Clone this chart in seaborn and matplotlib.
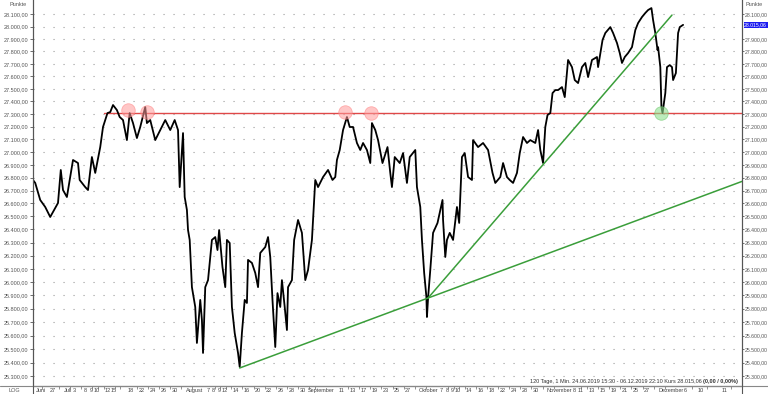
import numpy as np
import pandas as pd
import matplotlib
matplotlib.use("Agg")
import matplotlib.pyplot as plt
import seaborn as sns
from matplotlib.ticker import FixedLocator, NullLocator, FuncFormatter
from matplotlib.lines import Line2D

# ---------------- data ----------------
# trading-day index (0 = 24.06.2019) and Dow Jones index points
t_days = [0.0, 0.4, 1.3, 2.2, 3.1, 4.0, 4.5, 5.0, 5.4, 6.1, 7.2, 8.1, 8.4, 9.4, 9.9,
          10.6, 11.2, 12.1, 12.6, 13.4, 13.9, 14.4, 15.1, 15.6, 16.2, 16.9, 17.4, 18.0,
          18.7, 19.3, 20.2, 20.5, 21.1, 22.0, 22.9, 23.8, 24.7, 25.5, 26.1, 26.4, 27.0,
          27.3, 27.7, 27.9, 28.2, 28.6, 29.2, 29.5, 30.1, 30.4, 30.6, 31.0, 31.5, 32.2,
          32.8, 33.2, 33.5, 34.1, 34.6, 34.9, 35.4, 35.8, 36.3, 36.9, 37.2, 37.6, 38.1,
          38.5, 38.7, 39.4, 40.0, 40.5, 40.9, 41.8, 42.3, 42.7, 43.1, 43.6, 44.0, 44.5,
          44.8, 45.3, 45.7, 45.9, 46.6, 47.0, 47.7, 48.4, 49.0, 49.5, 50.2, 50.8, 51.3,
          52.2, 53.1, 53.9, 54.4, 54.7, 55.2, 55.8, 56.5, 57.0, 57.6, 58.3, 58.9, 59.4,
          60.1, 60.7, 61.0, 61.6, 62.1, 62.9, 63.8, 64.3, 64.6, 65.1, 66.0, 66.6, 67.3,
          67.8, 68.8, 69.1, 69.7, 70.0, 70.4, 70.8, 70.9, 71.1, 71.5, 72.0, 72.8, 73.3,
          73.7, 73.8, 74.2, 74.5, 75.0, 75.6, 76.3, 76.7, 77.2, 77.7, 78.3, 79.0, 79.2,
          80.1, 81.0, 81.9, 82.7, 83.2, 84.1, 84.6, 85.3, 85.8, 86.4, 87.1, 87.6, 88.2,
          88.9, 89.5, 90.4, 90.9, 91.3, 91.8, 92.2, 92.6, 93.1, 93.5, 94.0, 94.5, 95.2,
          95.7, 96.3, 97.0, 97.5, 98.1, 98.8, 99.4, 99.9, 100.6, 101.5, 101.7, 102.5,
          103.0, 103.9, 104.4, 105.1, 105.6, 106.0, 106.5, 107.1, 107.8, 108.4, 108.9,
          109.6, 110.2, 110.7, 111.3, 111.6, 112.0, 112.4, 112.5, 112.9, 113.1, 113.3,
          113.8, 114.1, 114.6, 115.0, 115.2, 115.7, 116.1, 116.4, 117.0]
price = [26782, 26759, 26627, 26573, 26496, 26565, 26604, 26860, 26704, 26650, 26938, 26914,
         26782, 26727, 26704, 26961, 26837, 27039, 27197, 27307, 27315, 27371, 27331, 27276,
         27252, 27094, 27307, 27228, 27110, 27197, 27355, 27228, 27252, 27094, 27173, 27252,
         27173, 27252, 27173, 26727, 27149, 26650, 26550, 26396, 26320, 25962, 25813, 25545,
         25866, 25716, 25471, 25962, 26015, 26320, 26342, 26243, 26396, 26114, 25962, 26320,
         26297, 25813, 25619, 25471, 25368, 25619, 25866, 25843, 26168, 26145, 26069, 25962,
         26221, 26266, 26342, 26190, 25866, 25515, 25917, 25813, 26015, 25813, 25641, 25962,
         26015, 26320, 26473, 26374, 26015, 26092, 26320, 26782, 26727, 26805, 26860, 26782,
         26805, 26938, 27016, 27173, 27276, 27197, 27197, 27071, 27016, 27071, 27016, 26914,
         27228, 27173, 27094, 26914, 27039, 26837, 26727, 26961, 26914, 26992, 26759, 26961,
         27016, 26727, 26573, 26320, 26069, 25888, 25738, 25880, 26092, 26374, 26450, 26550,
         26627, 26473, 26190, 26320, 26374, 26320, 26573, 26450, 26961, 26992, 26805, 26782,
         27094, 27039, 27071, 27016, 26837, 26759, 26805, 26914, 26805, 26782, 26759, 26837,
         26992, 27118, 27071, 27094, 27071, 27173, 27016, 26914, 27197, 27292, 27307, 27466,
         27490, 27490, 27514, 27434, 27731, 27674, 27570, 27546, 27674, 27707, 27594, 27731,
         27755, 27674, 27892, 27949, 27997, 27949, 27868, 27787, 27707, 27755, 27787, 27835,
         27973, 28030, 28079, 28112, 28136, 28152, 28054, 27949, 27811, 27835, 27674, 27355,
         27307, 27466, 27674, 27690, 27674, 27570, 27626, 27949, 27997, 28015.06]

# resistance line and trend lines
resistance_level = 27310
resistance_t = [12.8, 127.6]
trend_long_t = [37.2, 127.6]
trend_long_p = [25360, 26771]
trend_steep_t = [71.1, 115.0]
trend_steep_p = [25880, 28095]
# marked touches
touch_t = [17.1, 20.5, 56.2, 60.8]
touch_p = [27331, 27315, 27315, 27307]
support_t = [113.0]
support_p = [27307]

# axis ticks
y_ticks = list(range(25300, 28101, 100))
x_labels = ["Juni", "27", "Juli", "3", "8", "9", "10", "12", "15", "18", "22", "24", "26", "30",
            "August", "7", "8", "9", "12", "14", "16", "20", "22", "26", "28", "30",
            "September", "11", "13", "17", "19", "23", "25", "27",
            "Oktober", "7", "8", "9", "10", "14", "16", "18", "22", "24", "28", "30",
            "November", "8", "11", "13", "15", "19", "21", "25", "27",
            "Dezember", "6", "10", "11"]
x_label_days = [0, 3, 5, 7, 9, 10, 11, 13, 14, 17, 19, 21, 23, 25,
                27, 31, 32, 33, 34, 36, 38, 40, 42, 44, 46, 48,
                49, 55, 57, 59, 61, 63, 65, 67,
                69, 73, 74, 75, 76, 78, 80, 82, 84, 86, 88, 90,
                92, 97, 98, 100, 102, 104, 106, 108, 110,
                112, 116.9, 119.6, 123.9]
last_price = 28015.06
info_text = "120 Tage, 1 Min. 24.06.2019 15:30 - 06.12.2019 22:10 Kurs 28.015,06 "
info_bold = "(0,00 / 0,00%)"

# ---------------- figure ----------------
sns.set_theme(style="white")
plt.rcParams['font.family'] = ['Liberation Sans', 'DejaVu Sans']
FS = 4.0
FSR = 3.7
W, H = 768, 394
fig = plt.figure(figsize=(W / 100, H / 100), dpi=100)
ax = fig.add_axes([33 / W, (H - 385.7) / H, (742 - 33) / W, 385.7 / H])

df = pd.DataFrame({"t": t_days, "price": price})
sns.lineplot(data=df, x="t", y="price", ax=ax, color="black", linewidth=1.3,
             estimator=None, sort=False, zorder=5)

ax.set_yscale("log")
ymin, ymax = 25230, 28218
xmin, xmax = 0, 127.6
ax.set_ylim(ymin, ymax)
ax.set_xlim(xmin, xmax)

# resistance
ax.plot(resistance_t, [resistance_level, resistance_level], color="#e04848", lw=1.0, zorder=4)
# trend lines
ax.plot(trend_long_t, trend_long_p, color="#3a9e3a", lw=1.1, zorder=6)
ax.plot(trend_steep_t, trend_steep_p, color="#3a9e3a", lw=1.1, zorder=6)
# circles
ax.scatter(touch_t, touch_p, s=95, color="#ff9a9a", alpha=0.55, edgecolor="#ff8080",
           linewidth=0.6, zorder=7)
ax.scatter(support_t, support_p, s=95, color="#8ee08e", alpha=0.6, edgecolor="#6cc86c",
           linewidth=0.6, zorder=7)

def de_fmt(v, pos=None):
    s = f"{v:,.2f}"
    return s.replace(",", "X").replace(".", ",").replace("X", ".")

# y axis left
ax.yaxis.set_major_locator(FixedLocator(y_ticks))
ax.yaxis.set_minor_locator(NullLocator())
ax.yaxis.set_major_formatter(FuncFormatter(de_fmt))
ax.tick_params(axis="y", which="major", labelsize=FS, length=2.5, width=0.6,
               colors="#555555", pad=1, left=True)
ax.grid(axis="y", linestyle=(0, (1, 8)), color="#9a9a9a", lw=0.8)
ax.grid(axis="x", visible=False)

# right axis
ax2 = ax.twinx()
ax2.set_yscale("log")
ax2.set_ylim(ymin, ymax)
ax2.yaxis.set_major_locator(FixedLocator([v for v in y_ticks if v != 28000]))
ax2.yaxis.set_minor_locator(NullLocator())
ax2.yaxis.set_major_formatter(FuncFormatter(de_fmt))
ax2.tick_params(axis="y", which="major", labelsize=FSR, length=1.5, width=0.6,
                colors="#555555", pad=0.4, right=True)
ax2.grid(False)

# x axis
ax.set_xticks([d + 0.5 for d in x_label_days])
ax.set_xticklabels(x_labels)
ax.xaxis.set_minor_locator(FixedLocator([d + 1.7 for d in x_label_days]))
ax.tick_params(axis="x", which="major", labelsize=FS, length=0, pad=1.8, colors="#444444")
ax.tick_params(axis="x", which="minor", length=2, width=0.5, direction="out",
               bottom=True, colors="#666666")
for lab, txt in zip(ax.get_xticklabels(), x_labels):
    if not txt.isdigit():
        lab.set_horizontalalignment("left")

ax.set_xlabel("")
ax.set_ylabel("")
ax2.set_ylabel("")
for a in (ax, ax2):
    a.spines["top"].set_visible(False)
    a.spines["left"].set_color("#555555")
    a.spines["right"].set_color("#555555")
    a.spines["bottom"].set_color("#777777")
    for side in ("left", "right", "bottom"):
        a.spines[side].set_linewidth(0.8)

# last price box
ax2.text(1.003, last_price, de_fmt(last_price), transform=ax.get_yaxis_transform(),
         ha="left", va="center", fontsize=FSR, color="white", zorder=10, clip_on=False,
         bbox=dict(boxstyle="square,pad=0.12", fc="#1c1cf0", ec="none"))

# labels at top and corner
fig.text(27 / W, 1 - 4 / H, "Punkte", ha="right", va="center", fontsize=FS, color="#555555")
fig.text(746 / W, 1 - 4 / H, "Punkte", ha="left", va="center", fontsize=FS, color="#555555")
fig.text(14 / W, (H - 390) / H, "LOG", ha="center", va="center", fontsize=FS, color="#555555")

# bottom info line
fig.canvas.draw()
tb = fig.text(738 / W, (H - 381.5) / H, info_bold, ha="right", va="center", fontsize=FS,
              color="#333333", fontweight="bold")
fig.canvas.draw()
bb = tb.get_window_extent()
fig.text(bb.x0 / W, (H - 381.5) / H, info_text, ha="right", va="center", fontsize=FS,
         color="#333333")

# full-width bottom rule and extended spines
fig.add_artist(Line2D([0, 1], [(H - 385.7) / H] * 2, color="#888888", lw=0.8))
fig.add_artist(Line2D([33 / W] * 2, [0, (H - 385.7) / H], color="#555555", lw=0.8))
fig.add_artist(Line2D([742 / W] * 2, [0, (H - 385.7) / H], color="#555555", lw=0.8))

fig.savefig("out.png", dpi=100)
